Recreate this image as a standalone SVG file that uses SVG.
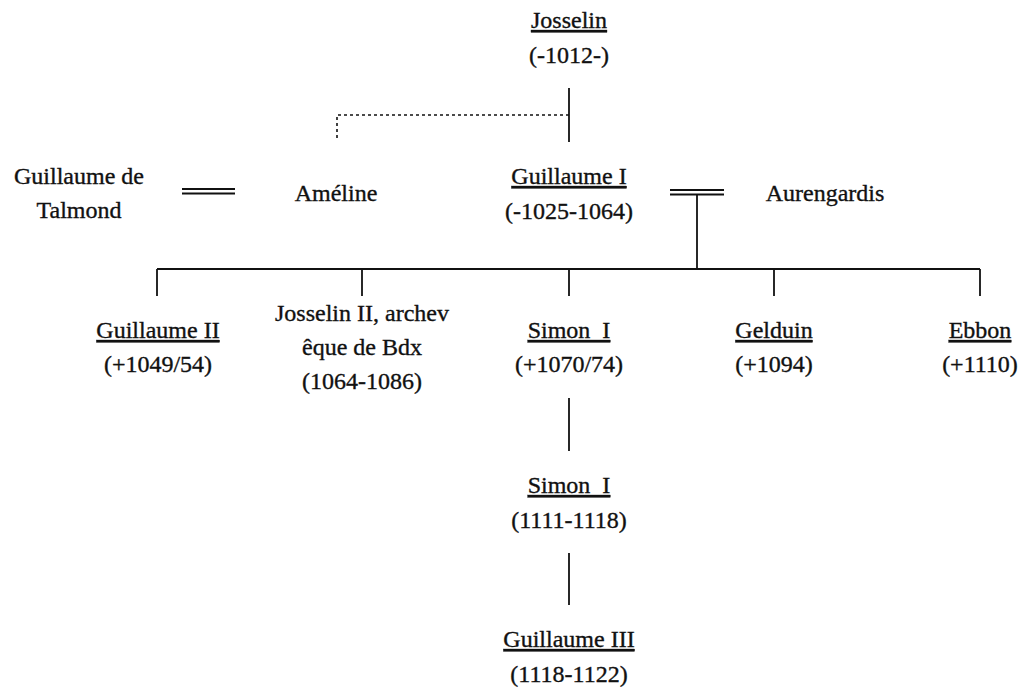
<svg xmlns="http://www.w3.org/2000/svg" width="1024" height="691" viewBox="0 0 1024 691">
  <style>
    text { font-family: "Liberation Serif", "DejaVu Serif", serif; font-size: 24px; fill: #111; stroke: #111; stroke-width: 0.35; text-anchor: middle; }
    .u { text-decoration: underline; }
    .ln { stroke: #111; stroke-width: 1.8; fill: none; }
    .dash { stroke: #111; stroke-width: 1.6; fill: none; stroke-dasharray: 3 3; }
  </style>
  <rect width="1024" height="691" fill="#fff"/>

  <g id="connectors">
    <!-- Josselin to Guillaume I -->
    <line class="ln" x1="569" y1="88" x2="569" y2="142"/>
    <!-- dotted link to Améline -->
    <polyline class="dash" points="569,115 337,115 337,141"/>
    <!-- marriage: Guillaume de Talmond = Améline -->
    <line class="ln" x1="182" y1="189" x2="235" y2="189"/>
    <line class="ln" x1="182" y1="193.5" x2="235" y2="193.5"/>
    <!-- marriage: Guillaume I = Aurengardis -->
    <line class="ln" x1="670" y1="190" x2="724" y2="190"/>
    <line class="ln" x1="670" y1="194.5" x2="724" y2="194.5"/>
    <line class="ln" x1="697" y1="194.5" x2="697" y2="269"/>
    <!-- children bar -->
    <line class="ln" x1="157" y1="269" x2="980" y2="269"/>
    <line class="ln" x1="157" y1="269" x2="157" y2="296"/>
    <line class="ln" x1="362" y1="269" x2="362" y2="296"/>
    <line class="ln" x1="569" y1="269" x2="569" y2="296"/>
    <line class="ln" x1="774" y1="269" x2="774" y2="296"/>
    <line class="ln" x1="980" y1="269" x2="980" y2="296"/>
    <!-- Simon I descent -->
    <line class="ln" x1="569" y1="398" x2="569" y2="451"/>
    <line class="ln" x1="569" y1="553" x2="569" y2="605"/>
  </g>

  <g id="josselin">
    <text class="u" x="569" y="28">Josselin</text>
    <text x="569" y="63">(-1012-)</text>
  </g>

  <g id="guillaume-de-talmond">
    <text x="79" y="184">Guillaume de</text>
    <text x="79" y="218">Talmond</text>
  </g>

  <g id="ameline">
    <text x="336" y="201">Améline</text>
  </g>

  <g id="guillaume-i">
    <text class="u" x="569" y="184">Guillaume I</text>
    <text x="569" y="219">(-1025-1064)</text>
  </g>

  <g id="aurengardis">
    <text x="825" y="201">Aurengardis</text>
  </g>

  <g id="guillaume-ii">
    <text class="u" x="158" y="338">Guillaume II</text>
    <text x="158" y="372">(+1049/54)</text>
  </g>

  <g id="josselin-ii">
    <text x="362" y="321">Josselin II, archev</text>
    <text x="362" y="355">êque de Bdx</text>
    <text x="362" y="389">(1064-1086)</text>
  </g>

  <g id="simon-i">
    <text class="u" x="569" y="338" xml:space="preserve">Simon  I</text>
    <text x="569" y="372">(+1070/74)</text>
  </g>

  <g id="gelduin">
    <text class="u" x="774" y="338">Gelduin</text>
    <text x="774" y="372">(+1094)</text>
  </g>

  <g id="ebbon">
    <text class="u" x="980" y="338">Ebbon</text>
    <text x="980" y="372">(+1110)</text>
  </g>

  <g id="simon-i-b">
    <text class="u" x="569" y="493" xml:space="preserve">Simon  I</text>
    <text x="569" y="528">(1111-1118)</text>
  </g>

  <g id="guillaume-iii">
    <text class="u" x="569" y="647">Guillaume III</text>
    <text x="569" y="682">(1118-1122)</text>
  </g>
</svg>
